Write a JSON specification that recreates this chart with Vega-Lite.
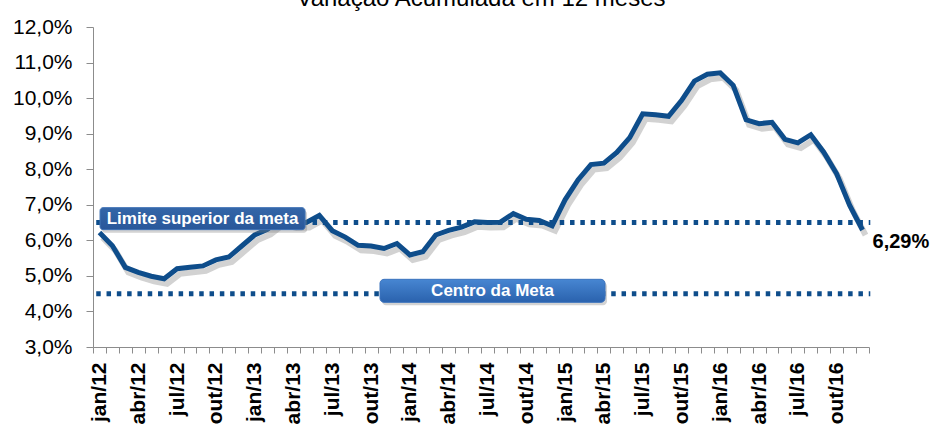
{
  "$schema": "https://vega.github.io/schema/vega-lite/v6.json",
  "autosize": {"type": "none"},
  "width": 776,
  "height": 320,
  "padding": {"left": 93, "top": 27, "right": 70, "bottom": 79},
  "background": "white",
  "title": {
    "text": "Variação Acumulada em 12 meses",
    "font": "Liberation Sans",
    "fontSize": 24,
    "fontWeight": "normal",
    "color": "#000000",
    "anchor": "middle",
    "baseline": "alphabetic",
    "offset": 12,
    "dy": 26
  },
  "datasets": {
    "ipca": [
      {"mes": "jan/12", "i": 0, "ipca": 6.22}, {"mes": "fev/12", "i": 1, "ipca": 5.85}, {"mes": "mar/12", "i": 2, "ipca": 5.24},
      {"mes": "abr/12", "i": 3, "ipca": 5.10}, {"mes": "mai/12", "i": 4, "ipca": 4.99}, {"mes": "jun/12", "i": 5, "ipca": 4.92},
      {"mes": "jul/12", "i": 6, "ipca": 5.20}, {"mes": "ago/12", "i": 7, "ipca": 5.24}, {"mes": "set/12", "i": 8, "ipca": 5.28},
      {"mes": "out/12", "i": 9, "ipca": 5.45}, {"mes": "nov/12", "i": 10, "ipca": 5.53}, {"mes": "dez/12", "i": 11, "ipca": 5.84},
      {"mes": "jan/13", "i": 12, "ipca": 6.15}, {"mes": "fev/13", "i": 13, "ipca": 6.31}, {"mes": "mar/13", "i": 14, "ipca": 6.59},
      {"mes": "abr/13", "i": 15, "ipca": 6.49}, {"mes": "mai/13", "i": 16, "ipca": 6.50}, {"mes": "jun/13", "i": 17, "ipca": 6.70},
      {"mes": "jul/13", "i": 18, "ipca": 6.27}, {"mes": "ago/13", "i": 19, "ipca": 6.09}, {"mes": "set/13", "i": 20, "ipca": 5.86},
      {"mes": "out/13", "i": 21, "ipca": 5.84}, {"mes": "nov/13", "i": 22, "ipca": 5.77}, {"mes": "dez/13", "i": 23, "ipca": 5.91},
      {"mes": "jan/14", "i": 24, "ipca": 5.59}, {"mes": "fev/14", "i": 25, "ipca": 5.68}, {"mes": "mar/14", "i": 26, "ipca": 6.15},
      {"mes": "abr/14", "i": 27, "ipca": 6.28}, {"mes": "mai/14", "i": 28, "ipca": 6.37}, {"mes": "jun/14", "i": 29, "ipca": 6.52},
      {"mes": "jul/14", "i": 30, "ipca": 6.50}, {"mes": "ago/14", "i": 31, "ipca": 6.51}, {"mes": "set/14", "i": 32, "ipca": 6.75},
      {"mes": "out/14", "i": 33, "ipca": 6.59}, {"mes": "nov/14", "i": 34, "ipca": 6.56}, {"mes": "dez/14", "i": 35, "ipca": 6.41},
      {"mes": "jan/15", "i": 36, "ipca": 7.14}, {"mes": "fev/15", "i": 37, "ipca": 7.70}, {"mes": "mar/15", "i": 38, "ipca": 8.13},
      {"mes": "abr/15", "i": 39, "ipca": 8.17}, {"mes": "mai/15", "i": 40, "ipca": 8.47}, {"mes": "jun/15", "i": 41, "ipca": 8.89},
      {"mes": "jul/15", "i": 42, "ipca": 9.56}, {"mes": "ago/15", "i": 43, "ipca": 9.53}, {"mes": "set/15", "i": 44, "ipca": 9.49},
      {"mes": "out/15", "i": 45, "ipca": 9.93}, {"mes": "nov/15", "i": 46, "ipca": 10.48}, {"mes": "dez/15", "i": 47, "ipca": 10.67},
      {"mes": "jan/16", "i": 48, "ipca": 10.71}, {"mes": "fev/16", "i": 49, "ipca": 10.36}, {"mes": "mar/16", "i": 50, "ipca": 9.39},
      {"mes": "abr/16", "i": 51, "ipca": 9.28}, {"mes": "mai/16", "i": 52, "ipca": 9.32}, {"mes": "jun/16", "i": 53, "ipca": 8.84},
      {"mes": "jul/16", "i": 54, "ipca": 8.74}, {"mes": "ago/16", "i": 55, "ipca": 8.97}, {"mes": "set/16", "i": 56, "ipca": 8.48},
      {"mes": "out/16", "i": 57, "ipca": 7.87}, {"mes": "nov/16", "i": 58, "ipca": 6.99}, {"mes": "dez/16", "i": 59, "ipca": 6.29}
    ],
    "metas": [
      {"meta": "Limite superior da meta", "valor": 6.5},
      {"meta": "Centro da Meta", "valor": 4.5}
    ],
    "rotulos": [
      {"texto": "Limite superior da meta", "x": 7.97, "y": 6.61},
      {"texto": "Centro da Meta", "x": 30.39, "y": 4.58}
    ]
  },
  "layer": [
    {
      "data": {"name": "ipca"},
      "mark": {"type": "line", "color": "#7f7f7f", "opacity": 0.35, "strokeWidth": 6, "xOffset": 3, "yOffset": 5},
      "encoding": {
        "x": {
          "field": "i", "type": "quantitative", "title": null,
          "scale": {"domain": [-0.5, 59.5], "nice": false, "zero": false},
          "axis": {
            "title": null,
            "grid": false,
            "tickCount": 100,
            "values": [-0.5, 0.5, 1.5, 2.5, 3.5, 4.5, 5.5, 6.5, 7.5, 8.5, 9.5, 10.5, 11.5, 12.5, 13.5, 14.5, 15.5, 16.5, 17.5, 18.5, 19.5, 20.5, 21.5, 22.5, 23.5, 24.5, 25.5, 26.5, 27.5, 28.5, 29.5, 30.5, 31.5, 32.5, 33.5, 34.5, 35.5, 36.5, 37.5, 38.5, 39.5, 40.5, 41.5, 42.5, 43.5, 44.5, 45.5, 46.5, 47.5, 48.5, 49.5, 50.5, 51.5, 52.5, 53.5, 54.5, 55.5, 56.5, 57.5, 58.5, 59.5],
            "labelExpr": "(datum.value + 0.5) % 3 == 0 && datum.value < 59 ? ['jan','abr','jul','out'][((datum.value + 0.5) % 12) / 3] + '/' + (12 + floor((datum.value + 0.5) / 12)) : ''",
            "labelAngle": 270,
            "labelAlign": "right",
            "labelBaseline": "middle",
            "labelOffset": 6.5,
            "labelPadding": 9,
            "labelFont": "Liberation Sans",
            "labelFontSize": 21,
            "labelFontWeight": "bold",
            "labelColor": "#000000",
            "labelOverlap": false,
            "labelFlush": false,
            "labelBound": false,
            "tickSize": 6,
            "tickColor": "#8c8c8c",
            "domainColor": "#8c8c8c"
          }
        },
        "y": {
          "field": "ipca", "type": "quantitative", "title": null,
          "scale": {"domain": [3, 12], "nice": false, "zero": false},
          "axis": {
            "title": null,
            "grid": false,
            "tickCount": 20,
            "values": [3, 4, 5, 6, 7, 8, 9, 10, 11, 12],
            "labelExpr": "replace(format(datum.value, '.1f'), '.', ',') + '%'",
            "labelFont": "Liberation Sans",
            "labelFontSize": 21,
            "labelColor": "#000000",
            "labelPadding": 14,
            "labelOverlap": false,
            "labelFlush": false,
            "labelBound": false,
            "tickSize": 7,
            "tickColor": "#8c8c8c",
            "domainColor": "#8c8c8c"
          }
        }
      }
    },
    {
      "data": {"name": "metas"},
      "mark": {"type": "rule", "color": "#0E4D8B", "strokeWidth": 5, "strokeDash": [4.5, 5.8], "strokeCap": "butt"},
      "encoding": {
        "x": {"datum": -0.25, "type": "quantitative", "title": null},
        "x2": {"datum": 59.6},
        "y": {"field": "valor", "type": "quantitative", "title": null}
      }
    },
    {
      "data": {"name": "ipca"},
      "mark": {"type": "line", "color": "#0E4D8B", "strokeWidth": 5},
      "encoding": {
        "x": {"field": "i", "type": "quantitative", "title": null},
        "y": {"field": "ipca", "type": "quantitative", "title": null}
      }
    },
    {
      "data": {"name": "rotulos"},
      "transform": [{"filter": "datum.texto == 'Limite superior da meta'"}],
      "layer": [
        {
          "mark": {"type": "rect", "width": 205, "height": 22, "cornerRadius": 3, "color": "#808080", "opacity": 0.35, "xOffset": 2, "yOffset": 3}
        },
        {
          "mark": {"type": "rect", "width": 205, "height": 22, "cornerRadius": 3, "stroke": "#3f72b5", "strokeWidth": 1,
            "color": {"gradient": "linear", "x1": 0, "y1": 0, "x2": 0, "y2": 1, "stops": [{"offset": 0, "color": "#3466a8"}, {"offset": 1, "color": "#29579a"}]}}
        },
        {
          "mark": {"type": "text", "font": "Liberation Sans", "fontSize": 17, "fontWeight": "bold", "color": "#ffffff", "align": "center", "baseline": "middle"},
          "encoding": {"text": {"field": "texto"}}
        }
      ],
      "encoding": {
        "x": {"field": "x", "type": "quantitative", "title": null},
        "y": {"field": "y", "type": "quantitative", "title": null}
      }
    },
    {
      "data": {"name": "rotulos"},
      "transform": [{"filter": "datum.texto == 'Centro da Meta'"}],
      "layer": [
        {
          "mark": {"type": "rect", "width": 225, "height": 23, "cornerRadius": 4, "color": "#808080", "opacity": 0.35, "xOffset": 2, "yOffset": 3}
        },
        {
          "mark": {"type": "rect", "width": 225, "height": 23, "cornerRadius": 4, "stroke": "#3a72bd", "strokeWidth": 1,
            "color": {"gradient": "linear", "x1": 0, "y1": 0, "x2": 0, "y2": 1, "stops": [{"offset": 0, "color": "#4786d2"}, {"offset": 1, "color": "#2a62ad"}]}}
        },
        {
          "mark": {"type": "text", "font": "Liberation Sans", "fontSize": 17, "fontWeight": "bold", "color": "#ffffff", "align": "center", "baseline": "middle"},
          "encoding": {"text": {"field": "texto"}}
        }
      ],
      "encoding": {
        "x": {"field": "x", "type": "quantitative", "title": null},
        "y": {"field": "y", "type": "quantitative", "title": null}
      }
    },
    {
      "data": {"name": "ipca"},
      "transform": [{"filter": "datum.i == 59"}],
      "mark": {"type": "text", "font": "Liberation Sans", "fontSize": 20, "fontWeight": "bold", "color": "#000000", "align": "left", "baseline": "top", "dx": 10, "dy": 2},
      "encoding": {
        "x": {"field": "i", "type": "quantitative", "title": null},
        "y": {"field": "ipca", "type": "quantitative", "title": null},
        "text": {"value": "6,29%"}
      }
    }
  ],
  "config": {
    "view": {"stroke": null}
  }
}
